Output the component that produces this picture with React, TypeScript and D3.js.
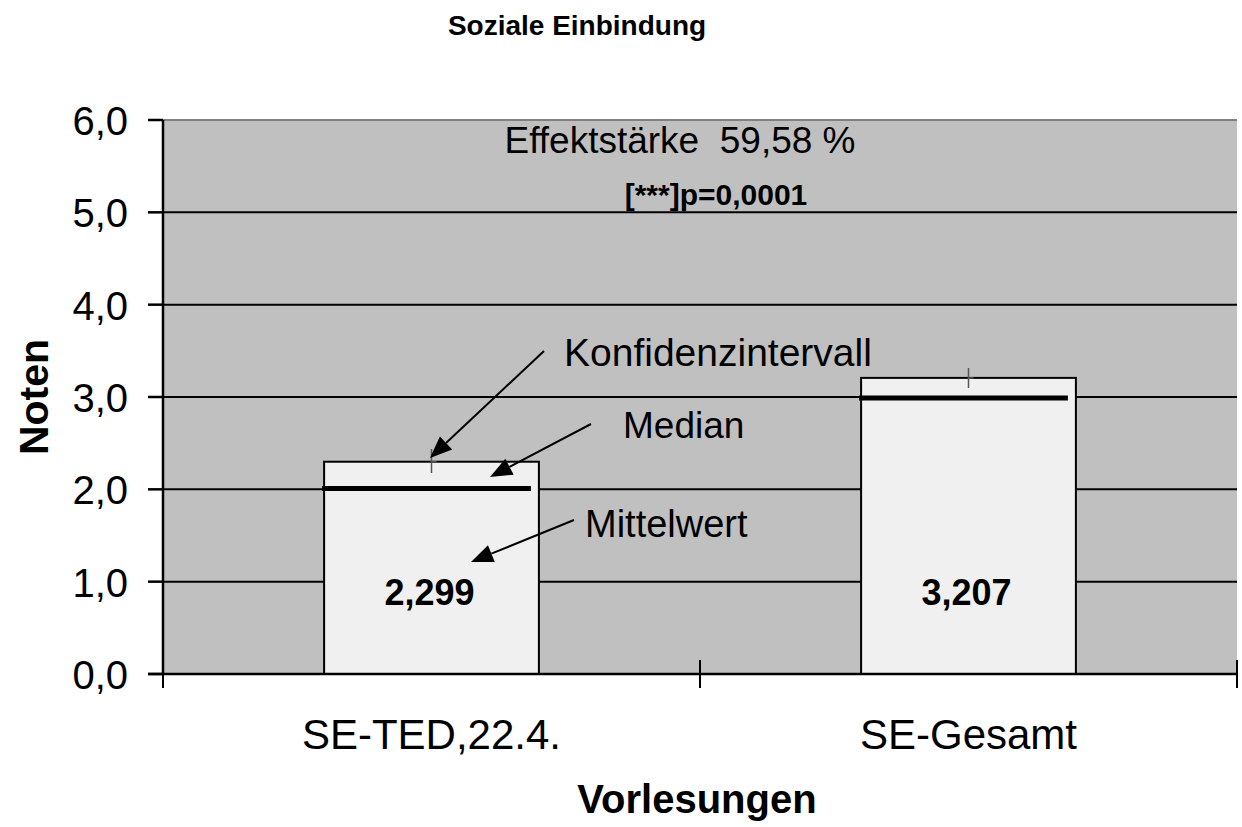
import React from "react";
import * as d3 from "d3";

const categories = ["SE-TED,22.4.", "SE-Gesamt"];
const means = [2.299, 3.207];
const meanLabels = ["2,299", "3,207"];
const medians = [2.01, 2.99];
const ciLow = [2.177, 3.098];
const ciHigh = [2.437, 3.314];
const yTicks = [0, 1, 2, 3, 4, 5, 6];

const W = 1242, H = 827;
const left = 163, right = 1237, top = 120, bottom = 674;
const font = "'Liberation Sans', Arial, Helvetica, sans-serif";

export default function App() {
  const x = d3.scaleBand<string>().domain(categories).range([left, right]).paddingInner(0).paddingOuter(0);
  const y = d3.scaleLinear().domain([0, 6]).range([bottom, top]);
  const bw = x.bandwidth() * 0.4;
  const cx = (c: string) => (x(c) as number) + x.bandwidth() / 2;
  const fmt = (v: number) => v.toFixed(1).replace(".", ",");

  const arrow = (x1: number, y1: number, x2: number, y2: number, key: string) => {
    const ang = Math.atan2(y2 - y1, x2 - x1);
    const L = 22, Wd = 9;
    const bx = x2 - L * Math.cos(ang), by = y2 - L * Math.sin(ang);
    const px = -Math.sin(ang) * Wd, py = Math.cos(ang) * Wd;
    return (
      <g key={key}>
        <line x1={x1} y1={y1} x2={bx} y2={by} stroke="#000" strokeWidth={2} />
        <polygon points={`${x2},${y2} ${bx + px},${by + py} ${bx - px},${by - py}`} fill="#000" />
      </g>
    );
  };

  return (
    <svg width={W} height={H} style={{ position: "absolute", left: 0, top: 0, background: "#fff" }} fontFamily={font}>
      <text x={577} y={35} textAnchor="middle" fontSize={28} fontWeight="bold">Soziale Einbindung</text>
      <rect x={left} y={top} width={right - left} height={bottom - top} fill="#c0c0c0" />
      <line x1={left} x2={right} y1={top} y2={top} stroke="#808080" strokeWidth={2} />
      {yTicks.filter(t => t > 0 && t < 6).map(t => (
        <line key={"g" + t} x1={left} x2={right} y1={y(t)} y2={y(t)} stroke="#000" strokeWidth={2} />
      ))}
      {categories.map((c, i) => (
        <g key={c}>
          <rect x={cx(c) - bw / 2} y={y(means[i])} width={bw} height={bottom - y(means[i])} fill="#f0f0f0" stroke="#000" strokeWidth={2} />
          <line x1={cx(c) - bw / 2 - 2} x2={cx(c) + bw / 2 - 8} y1={y(medians[i])} y2={y(medians[i])} stroke="#000" strokeWidth={5} />
          <line x1={cx(c)} x2={cx(c)} y1={y(ciHigh[i])} y2={y(ciLow[i])} stroke="#555" strokeWidth={1.5} />
          <line x1={cx(c)} x2={cx(c) + 5} y1={y(means[i])} y2={y(means[i])} stroke="#555" strokeWidth={1.5} />
          <text x={cx(c) - 2} y={y(1) + 23} textAnchor="middle" fontSize={36} fontWeight="bold">{meanLabels[i]}</text>
          <text x={cx(c)} y={749} textAnchor="middle" fontSize={42}>{c}</text>
        </g>
      ))}
      <line x1={left} x2={left} y1={top} y2={bottom} stroke="#000" strokeWidth={2.5} />
      {yTicks.map(t => (
        <g key={"t" + t}>
          <line x1={148} x2={left} y1={y(t)} y2={y(t)} stroke="#000" strokeWidth={2.5} />
          <text x={128} y={y(t) + 15} textAnchor="end" fontSize={40}>{fmt(t)}</text>
        </g>
      ))}
      <line x1={148} x2={right} y1={bottom} y2={bottom} stroke="#000" strokeWidth={2.5} />
      {[left, left + x.bandwidth(), right].map((xx, i) => (
        <line key={"xt" + i} x1={xx} x2={xx} y1={i === 0 ? bottom : bottom - 14} y2={bottom + 14} stroke="#000" strokeWidth={2} />
      ))}
      <text x={680} y={153} textAnchor="middle" fontSize={37} style={{ whiteSpace: "pre" }}>{"Effektstärke  59,58 %"}</text>
      <text x={716} y={205} textAnchor="middle" fontSize={30} fontWeight="bold">[***]p=0,0001</text>
      <text x={564} y={366} fontSize={39}>Konfidenzintervall</text>
      <text x={623} y={438} fontSize={37}>Median</text>
      <text x={585} y={537} fontSize={38}>Mittelwert</text>
      {arrow(544, 351, 430, 458, "a1")}
      {arrow(591, 424, 490, 477, "a2")}
      {arrow(574, 520, 471, 562, "a3")}
      <text x={697} y={813} textAnchor="middle" fontSize={40} fontWeight="bold">Vorlesungen</text>
      <text transform="translate(48,397) rotate(-90)" textAnchor="middle" fontSize={41} fontWeight="bold">Noten</text>
    </svg>
  );
}
